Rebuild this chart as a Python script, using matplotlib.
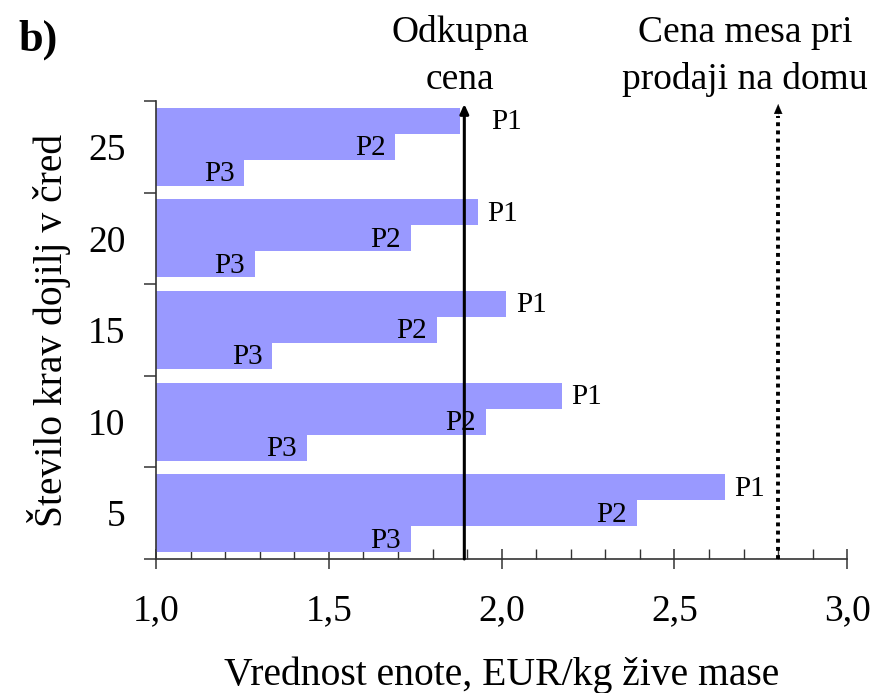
#!/usr/bin/env python3
# -*- coding: utf-8 -*-
"""Vrednost enote po velikosti crede (P1, P2, P3) + odkupna cena in cena pri prodaji na domu."""
import matplotlib
matplotlib.use("Agg")
import matplotlib.pyplot as plt
from matplotlib.ticker import MultipleLocator, FixedLocator

plt.rcParams["font.family"] = ["Liberation Serif", "DejaVu Serif"]

# podatki (od spodaj navzgor)
herd_sizes = ["5", "10", "15", "20", "25"]
p1_values = [2.646, 2.174, 2.013, 1.931, 1.880]
p2_values = [2.391, 1.954, 1.812, 1.737, 1.692]
p3_values = [1.737, 1.436, 1.336, 1.286, 1.255]
purchase_price = 1.892      # odkupna cena
home_sale_price = 2.80      # cena mesa pri prodaji na domu
x_ticklabels = ["1,0", "1,5", "2,0", "2,5", "3,0"]

BAR_COLOR = "#9999FF"
AX_COLOR = "#333333"
BASE = 1.0
H = 0.284
# odmik napisa P1 (v tockah), pri 25 dlje zaradi puscice
p1_offsets = [7, 7, 7, 7, 22]

fig = plt.figure(figsize=(8.74, 6.93), dpi=100)
ax = fig.add_axes([156 / 874, 1 - 559 / 693, (847.3 - 156) / 874, (559 - 101) / 693])

ys = list(range(len(herd_sizes)))
series = [(p1_values, H, "P1"), (p2_values, 0.0, "P2"), (p3_values, -H, "P3")]
for vals, off, name in series:
    yy = [y + off for y in ys]
    ax.barh(yy, [v - BASE for v in vals], left=BASE, height=H,
            color=BAR_COLOR, edgecolor="none", zorder=2)
    for i, (y, v) in enumerate(zip(yy, vals)):
        if name == "P1":
            ax.annotate(name, (v, y), xytext=(p1_offsets[i], -1), textcoords="offset points",
                        ha="left", va="center", fontsize=21, zorder=4)
        else:
            ax.annotate(name, (v, y), xytext=(-7, -1), textcoords="offset points",
                        ha="right", va="center", fontsize=21, zorder=4)

ax.set_xlim(1.0, 3.0)
ax.set_ylim(-0.5, len(herd_sizes) - 0.5)

# puscici
tip = len(herd_sizes) - 0.5 - 3 / 91.6
ax.annotate("", xy=(purchase_price, tip), xytext=(purchase_price, -0.5),
            arrowprops=dict(arrowstyle="-|>,head_length=0.55,head_width=0.25",
                            lw=2.2, color="k", shrinkA=0, shrinkB=0), zorder=3)
head_base = len(herd_sizes) - 0.5 - 15 / 91.6
ax.plot([home_sale_price, home_sale_price], [-0.5, head_base], color="k",
        lw=2.8, linestyle=(0, (1.0, 1.1)), zorder=3, clip_on=False)
ax.annotate("", xy=(home_sale_price, tip), xytext=(home_sale_price, head_base),
            arrowprops=dict(arrowstyle="-|>,head_length=0.7,head_width=0.3",
                            lw=0.1, color="k", shrinkA=0, shrinkB=0), zorder=3)

# osi
for s in ["top", "right"]:
    ax.spines[s].set_visible(False)
for s in ["left", "bottom"]:
    ax.spines[s].set_color(AX_COLOR)
    ax.spines[s].set_linewidth(1.2)

ax.xaxis.set_major_locator(FixedLocator([1.0, 1.5, 2.0, 2.5, 3.0]))
ax.set_xticklabels(x_ticklabels, fontsize=27)
ax.xaxis.set_minor_locator(MultipleLocator(0.1))
ax.tick_params(axis="x", which="major", direction="inout", length=14.5, width=1.1,
               color=AX_COLOR, pad=18)
ax.tick_params(axis="x", which="minor", direction="in", length=7, width=1.0, color=AX_COLOR)

bounds = [y - 0.5 for y in range(len(herd_sizes) + 1)]
ax.yaxis.set_major_locator(FixedLocator(bounds))
ax.set_yticklabels([""] * len(bounds))
ax.yaxis.set_minor_locator(FixedLocator(ys))
ax.set_yticklabels(herd_sizes, minor=True, fontsize=27)
ax.tick_params(axis="y", which="major", direction="out", length=9, width=1.1, color=AX_COLOR)
ax.tick_params(axis="y", which="minor", length=0, pad=22)

ax.set_xlabel("Vrednost enote, EUR/kg žive mase", fontsize=28.5, labelpad=20)
ax.set_ylabel("Število krav dojilj v čred", fontsize=28.5, labelpad=12)

fig.text(18 / 874, 1 - 40 / 693, "b)", fontsize=32, fontweight="bold", ha="left", va="center")
fig.text(460 / 874, 1 - 56 / 693, "Odkupna\ncena", fontsize=27, ha="center", va="center",
         linespacing=1.45)
fig.text(745 / 874, 1 - 56 / 693, "Cena mesa pri\nprodaji na domu", fontsize=27, ha="center",
         va="center", linespacing=1.45)

fig.savefig("out.png", dpi=100)
